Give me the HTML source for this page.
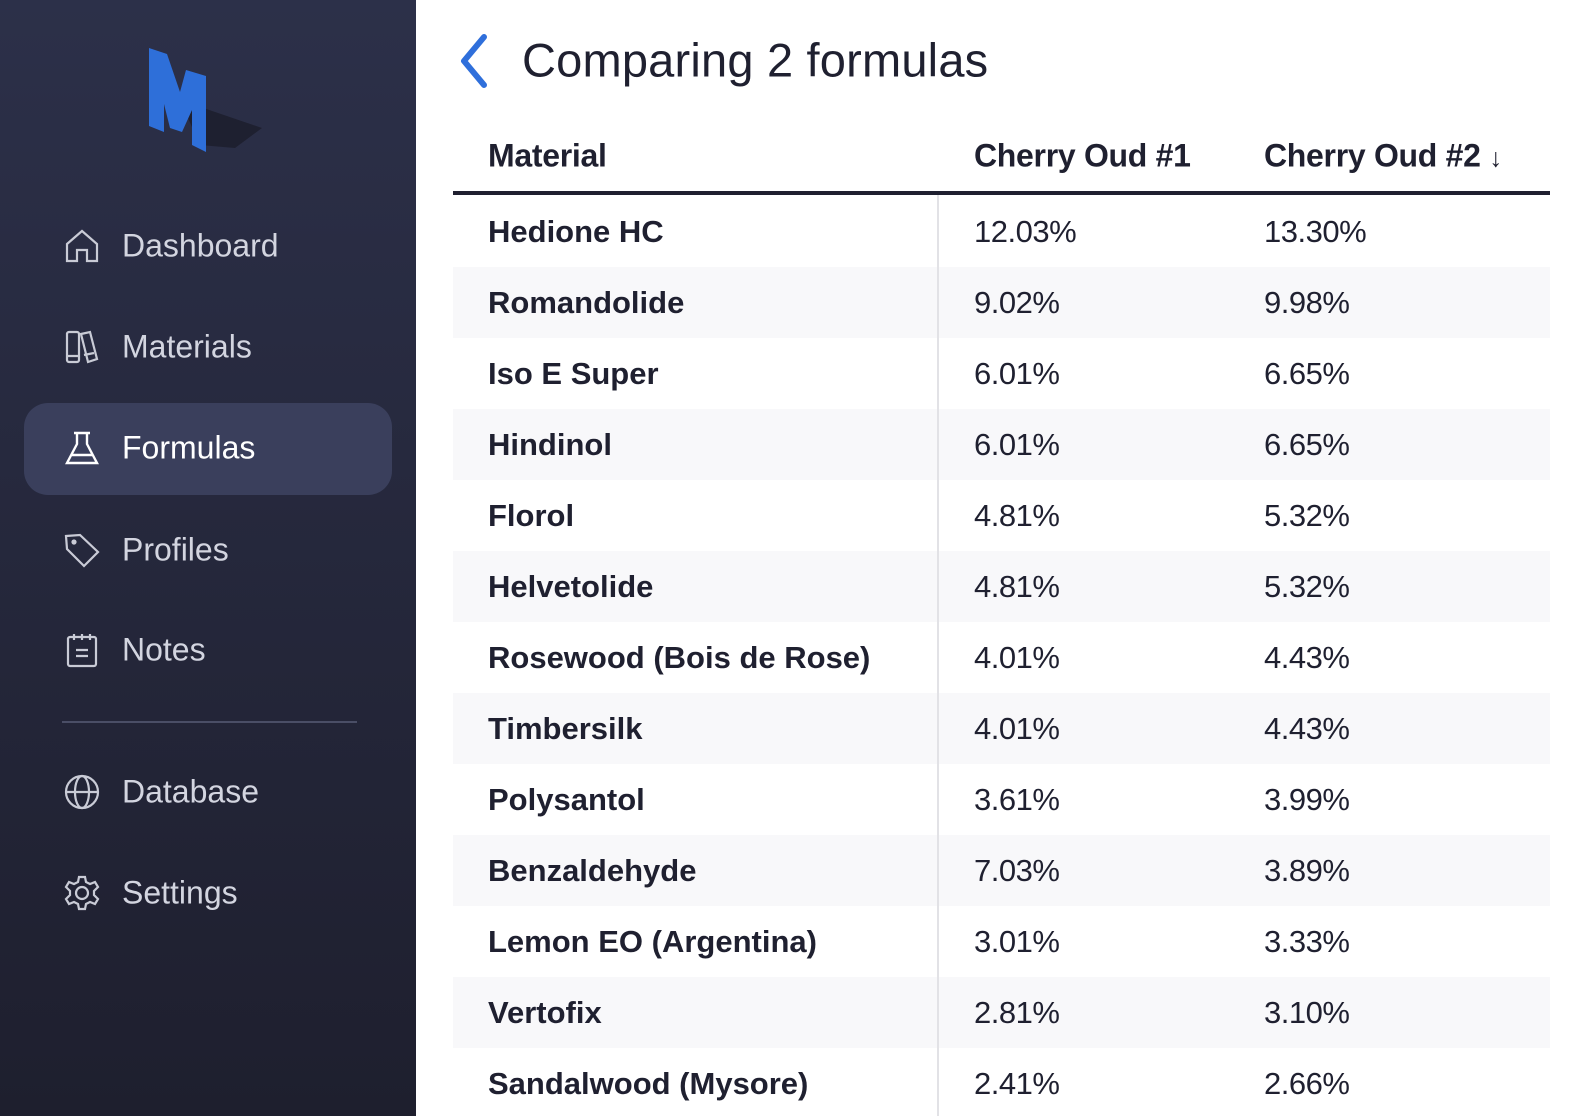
<!DOCTYPE html>
<html><head><meta charset="utf-8"><style>
*{margin:0;padding:0;box-sizing:border-box}
body{width:1586px;height:1116px;overflow:hidden;background:#fff;font-family:"Liberation Sans",sans-serif;position:relative}
.sb{position:absolute;left:0;top:0;width:416px;height:1116px;background:linear-gradient(#2c3049,#1e1f2e)}
.nav{position:absolute;left:122px;font-size:32px;color:#d3d5e0;transform:translateY(-50%);letter-spacing:0}
.ic{position:absolute;left:64px;width:36px;height:36px;transform:translateY(-50%)}
.pill{position:absolute;left:24px;top:403px;width:368px;height:92px;border-radius:24px;background:#3a3f5c}
.div{position:absolute;left:62px;top:721px;width:295px;height:2px;background:#4a4e66}
.title{position:absolute;left:522px;top:60px;transform:translateY(-50%);font-size:47px;color:#1f2030;letter-spacing:0.2px}
.hd{position:absolute;top:156px;transform:translateY(-50%);font-size:32px;font-weight:bold;color:#1f2030;letter-spacing:-0.3px}
.hl{position:absolute;left:453px;top:191px;width:1097px;height:4px;background:#1f2030}
.vl{position:absolute;left:937px;top:195px;width:2px;height:921px;background:#e2e2e6}
.row{position:absolute;left:453px;width:1097px;height:71px}
.row.s{background:#f8f8fa}
.c{position:absolute;top:50%;transform:translateY(-50%);font-size:31px;color:#1f2030;letter-spacing:-0.5px;white-space:nowrap}
.n{left:35px;font-weight:bold;letter-spacing:0}
.a{left:521px}.b{left:811px}
</style></head><body>
<div class="sb">
<svg style="position:absolute;left:140px;top:40px" width="130" height="120" viewBox="0 0 130 120">
<polygon points="40,60 122,88 95,108 60,105" fill="#1c1d2a" opacity="0.8"/>
<polygon points="9,8 27,14 40,52 46,30 66,36 66,112 52,105 52,70 42,92 30,88 24,64 24,92 9,86" fill="#2e6fd9"/>
</svg>
<div class="pill"></div>
<svg class="ic" style="top:246px" viewBox="0 0 36 36" fill="none" stroke="#c9cbd6" stroke-width="2.2"><path d="M3 16 L18 3 L33 16 V33 H23 V22 H13 V33 H3 Z"/></svg>
<div class="nav" style="top:246px">Dashboard</div>
<svg class="ic" style="top:347px" viewBox="0 0 36 36" fill="none" stroke="#c9cbd6" stroke-width="2.2"><rect x="3" y="3" width="12" height="30" rx="2"/><path d="M17 5 L26 3 L33 30 L24 33 Z"/><path d="M3 27H15M20 26L30 24"/></svg>
<div class="nav" style="top:347px">Materials</div>
<svg class="ic" style="top:448px" viewBox="0 0 36 36" fill="none" stroke="#fff" stroke-width="2.4"><path d="M10 3H26M13 3V14L3 33H33L23 14V3M7 25H29"/></svg>
<div class="nav" style="top:448px;color:#fff">Formulas</div>
<svg class="ic" style="top:550px" viewBox="0 0 36 36" fill="none" stroke="#c9cbd6" stroke-width="2.2"><path d="M2 4 L16 3 L34 20 L20 34 L3 17 Z"/><circle cx="10" cy="10" r="1.5" fill="#c9cbd6"/></svg>
<div class="nav" style="top:550px">Profiles</div>
<svg class="ic" style="top:650px" viewBox="0 0 36 36" fill="none" stroke="#c9cbd6" stroke-width="2.2"><rect x="4" y="5" width="28" height="29" rx="2"/><path d="M10 2V8M18 2V8M26 2V8M12 18H24M12 24H24"/></svg>
<div class="nav" style="top:650px">Notes</div>
<div class="div"></div>
<svg class="ic" style="top:792px" viewBox="0 0 36 36" fill="none" stroke="#c9cbd6" stroke-width="2.2"><circle cx="18" cy="18" r="16"/><ellipse cx="18" cy="18" rx="7" ry="16"/><path d="M2 18H34"/></svg>
<div class="nav" style="top:792px">Database</div>
<svg class="ic" style="top:893px" viewBox="0 0 36 36" fill="none" stroke="#c9cbd6" stroke-width="2.2"><path d="M15 2H21L22 7L26 9L31 7L34 12L30 16V20L34 24L31 29L26 27L22 29L21 34H15L14 29L10 27L5 29L2 24L6 20V16L2 12L5 7L10 9L14 7Z"/><circle cx="18" cy="18" r="6"/></svg>
<div class="nav" style="top:893px">Settings</div>
</div>
<svg style="position:absolute;left:456px;top:33px" width="36" height="56" viewBox="0 0 36 56"><path d="M28 4 L8 28 L28 52" fill="none" stroke="#2f6fdb" stroke-width="6" stroke-linecap="round" stroke-linejoin="round"/></svg>
<div class="title">Comparing 2 formulas</div>
<div class="hd" style="left:488px">Material</div>
<div class="hd" style="left:974px">Cherry Oud #1</div>
<div class="hd" style="left:1264px">Cherry Oud #2 <span style="font-size:26px;font-weight:normal">&#8595;</span></div>
<div class="hl"></div>
<div class="row" style="top:196px"><div class="c n">Hedione HC</div><div class="c a">12.03%</div><div class="c b">13.30%</div></div>
<div class="row s" style="top:267px"><div class="c n">Romandolide</div><div class="c a">9.02%</div><div class="c b">9.98%</div></div>
<div class="row" style="top:338px"><div class="c n">Iso E Super</div><div class="c a">6.01%</div><div class="c b">6.65%</div></div>
<div class="row s" style="top:409px"><div class="c n">Hindinol</div><div class="c a">6.01%</div><div class="c b">6.65%</div></div>
<div class="row" style="top:480px"><div class="c n">Florol</div><div class="c a">4.81%</div><div class="c b">5.32%</div></div>
<div class="row s" style="top:551px"><div class="c n">Helvetolide</div><div class="c a">4.81%</div><div class="c b">5.32%</div></div>
<div class="row" style="top:622px"><div class="c n">Rosewood (Bois de Rose)</div><div class="c a">4.01%</div><div class="c b">4.43%</div></div>
<div class="row s" style="top:693px"><div class="c n">Timbersilk</div><div class="c a">4.01%</div><div class="c b">4.43%</div></div>
<div class="row" style="top:764px"><div class="c n">Polysantol</div><div class="c a">3.61%</div><div class="c b">3.99%</div></div>
<div class="row s" style="top:835px"><div class="c n">Benzaldehyde</div><div class="c a">7.03%</div><div class="c b">3.89%</div></div>
<div class="row" style="top:906px"><div class="c n">Lemon EO (Argentina)</div><div class="c a">3.01%</div><div class="c b">3.33%</div></div>
<div class="row s" style="top:977px"><div class="c n">Vertofix</div><div class="c a">2.81%</div><div class="c b">3.10%</div></div>
<div class="row" style="top:1048px"><div class="c n">Sandalwood (Mysore)</div><div class="c a">2.41%</div><div class="c b">2.66%</div></div>
<div class="vl"></div>
</body></html>
